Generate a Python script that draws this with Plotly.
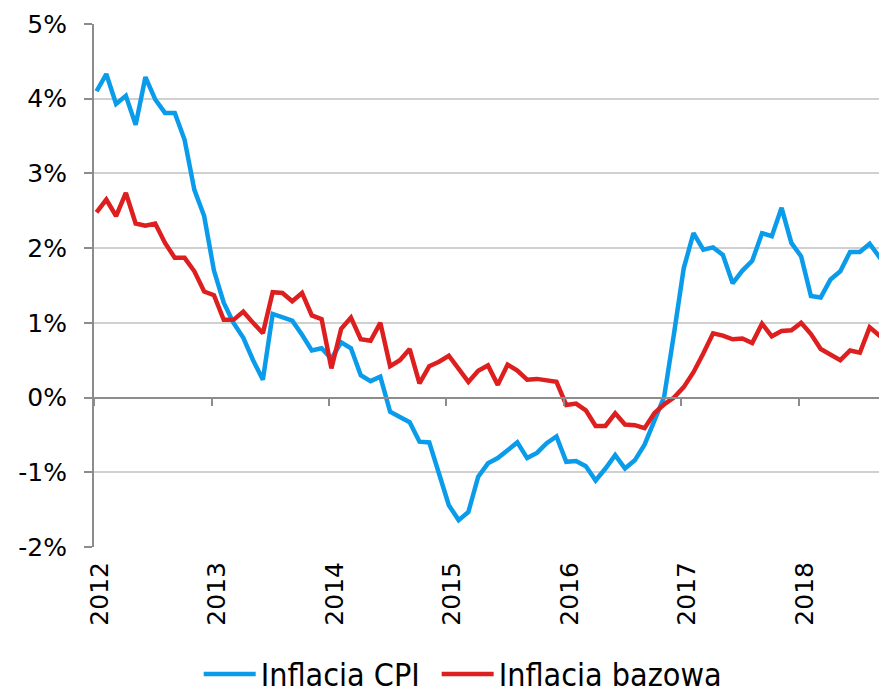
import plotly.graph_objects as go

years = ["2012", "2013", "2014", "2015", "2016", "2017", "2018"]

cpi = [
    4.10, 4.33, 3.93, 4.04, 3.65, 4.29, 3.99, 3.81, 3.81, 3.45, 2.78, 2.43,
    1.70, 1.27, 1.00, 0.80, 0.50, 0.24, 1.12, 1.08, 1.03, 0.84, 0.63, 0.66,
    0.52, 0.74, 0.66, 0.30, 0.22, 0.28, -0.19, -0.26, -0.33, -0.59, -0.60, -1.02,
    -1.44, -1.64, -1.53, -1.06, -0.88, -0.81, -0.70, -0.60, -0.81, -0.74, -0.61, -0.52,
    -0.86, -0.85, -0.92, -1.11, -0.95, -0.77, -0.95, -0.84, -0.63, -0.32, 0.01, 0.85,
    1.73, 2.20, 1.98, 2.01, 1.91, 1.53, 1.70, 1.83, 2.20, 2.16, 2.54, 2.07,
    1.89, 1.36, 1.34, 1.58, 1.69, 1.95, 1.95, 2.06, 1.87, 1.70,
]

core = [
    2.48, 2.65, 2.43, 2.74, 2.33, 2.30, 2.33, 2.07, 1.87, 1.87, 1.69, 1.42,
    1.37, 1.04, 1.04, 1.15, 1.00, 0.86, 1.41, 1.40, 1.29, 1.40, 1.10, 1.05,
    0.39, 0.92, 1.07, 0.78, 0.76, 1.00, 0.42, 0.50, 0.65, 0.19, 0.42, 0.48,
    0.56, 0.38, 0.21, 0.36, 0.43, 0.17, 0.44, 0.36, 0.24, 0.25, 0.23, 0.21,
    -0.10, -0.08, -0.17, -0.38, -0.38, -0.21, -0.36, -0.37, -0.41, -0.21, -0.09, 0.00,
    0.14, 0.34, 0.59, 0.86, 0.83, 0.78, 0.79, 0.73, 0.99, 0.82, 0.89, 0.90,
    1.00, 0.85, 0.65, 0.57, 0.50, 0.63, 0.60, 0.94, 0.83, 0.96,
]

y_ticks = [-2, -1, 0, 1, 2, 3, 4, 5]
y_ticktext = ["-2%", "-1%", "0%", "1%", "2%", "3%", "4%", "5%"]

months = list(range(len(cpi)))
year_bounds = [12 * k - 0.25 for k in range(len(years))]
label_pos = [12 * k + 0.35 for k in range(len(years))]

FONT = "DejaVu Sans, Verdana, sans-serif"
LEGEND_FONT = "DejaVu Sans Condensed, Liberation Sans Narrow, sans-serif"
AXIS_GREY = "#8c8c8c"
GRID_GREY = "#d0d0d0"
x_range = [-0.256, 81.59]

fig = go.Figure()
fig.add_trace(go.Scatter(x=months, y=cpi, mode="lines", name="Inflacja CPI",
                         line=dict(color="#0A9CEB", width=4.5), legend="legend"))
fig.add_trace(go.Scatter(x=months, y=core, mode="lines", name="Inflacja bazowa",
                         line=dict(color="#DD1F1F", width=4.5), legend="legend2"))
# invisible carrier trace so the label axis (x2) gets drawn
fig.add_trace(go.Scatter(x=months, y=cpi, xaxis="x2", mode="lines",
                         line=dict(width=0, color="rgba(0,0,0,0)"),
                         showlegend=False, hoverinfo="skip"))

legend_common = dict(orientation="h", xanchor="left", y=-0.243, yanchor="middle",
                     font=dict(family=LEGEND_FONT, size=32), itemwidth=52,
                     bgcolor="rgba(0,0,0,0)")

fig.update_layout(
    width=887, height=686,
    margin=dict(l=86, r=0, t=16, b=147, autoexpand=False),
    paper_bgcolor="white", plot_bgcolor="white",
    font=dict(family=FONT, size=24, color="#000000"),
    showlegend=True,
    legend=dict(x=0.1307, **legend_common),
    legend2=dict(x=0.4278, **legend_common),
    xaxis=dict(range=x_range, anchor="free", position=2 / 7,
               showline=True, linecolor=AXIS_GREY, linewidth=2,
               ticks="outside", ticklen=7, tickwidth=2, tickcolor=AXIS_GREY,
               tickmode="array", tickvals=year_bounds, showticklabels=False,
               showgrid=False, zeroline=False),
    xaxis2=dict(range=x_range, overlaying="x", anchor="y", side="bottom",
                showline=False, ticks="", tickmode="array", tickvals=label_pos,
                ticktext=years, tickangle=-90, showgrid=False, zeroline=False,
                ticklabelstandoff=9,
                tickfont=dict(family=FONT, size=25)),
    yaxis=dict(range=[-2, 5], tickmode="array", tickvals=y_ticks, ticktext=y_ticktext,
               showline=True, linecolor=AXIS_GREY, linewidth=2,
               ticks="outside", ticklen=8, tickwidth=2, tickcolor=AXIS_GREY,
               showgrid=True, gridcolor=GRID_GREY, gridwidth=1.5,
               zeroline=False, ticklabelstandoff=12,
               tickfont=dict(family=FONT, size=25)),
)

fig.write_html("out.html")
